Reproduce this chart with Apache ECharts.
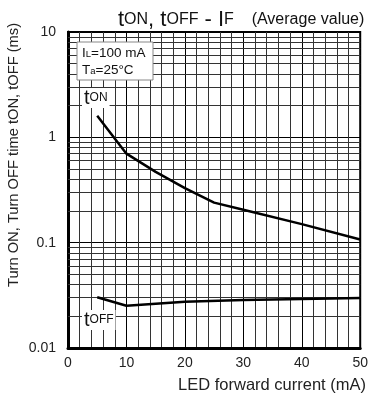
<!DOCTYPE html>
<html>
<head>
<meta charset="utf-8">
<script src="https://cdn.jsdelivr.net/npm/echarts@6/dist/echarts.min.js"></script>
<style>html,body{margin:0;padding:0;background:#fff}#c{width:371px;height:394px}</style>
</head>
<body>
<div id="c"></div>
<script>
// Data
var ledCurrent_on = [5, 10, 15, 20, 25, 30, 40, 50];
var tOn = [1.6, 0.70, 0.47, 0.33, 0.24, 0.205, 0.150, 0.107];
var ledCurrent_off = [5, 10, 20, 30, 40, 50];
var tOff = [0.0303, 0.0252, 0.0275, 0.0285, 0.0292, 0.0298];
var yTicks = [0.01, 0.1, 1, 10];
var xTicks = [0, 10, 20, 30, 40, 50];
var yMinorLines = [];
[0.01, 0.1, 1].forEach(function (d) { for (var k = 2; k <= 9; k++) yMinorLines.push(+(d * k).toPrecision(3)); });

var F = 'Liberation Sans, Arial, sans-serif';
var chart = echarts.init(document.getElementById('c'), null, {renderer: 'canvas'});
function pairs(xs, ys) { return xs.map(function (x, i) { return [x, ys[i]]; }); }

chart.setOption({
  animation: false,
  grid: {left: 68, right: 6, top: 32, bottom: 46, show: true, borderColor: '#000', borderWidth: 2},
  xAxis: {
    type: 'value', min: 0, max: 50, interval: 10,
    axisLine: {show: true, lineStyle: {color: '#000', width: 3}},
    axisTick: {show: false},
    axisLabel: {color: '#222', fontFamily: F, fontSize: 14, margin: 8, showMaxLabel: true},
    splitLine: {show: true, lineStyle: {color: '#000', width: 1}},
    minorTick: {show: false, splitNumber: 5},
    minorSplitLine: {show: true, lineStyle: {color: '#333', width: 1}}
  },
  yAxis: {
    type: 'log', logBase: 10, min: 0.01, max: 10,
    axisLine: {show: true, lineStyle: {color: '#000', width: 3}},
    axisTick: {show: false},
    axisLabel: {color: '#222', fontFamily: F, fontSize: 14, margin: 12,
      formatter: function (v) { return yTicks.filter(function (t) { return Math.abs(t - v) / t < 1e-6; }).map(String)[0] || String(v); }},
    splitLine: {show: true, lineStyle: {color: '#000', width: 1}}
  },
  series: [
    {
      type: 'line', data: [], silent: true, z: 1,
      markLine: {
        silent: true, symbol: ['none', 'none'], label: {show: false},
        lineStyle: {color: '#333', width: 1, type: 'solid'},
        data: yMinorLines.map(function (v) { return {yAxis: v}; })
      }
    },
    {type: 'line', data: pairs(ledCurrent_on, tOn), showSymbol: false, z: 5,
      lineStyle: {color: '#000', width: 2.5}},
    {type: 'line', data: pairs(ledCurrent_off, tOff), showSymbol: false, z: 5,
      lineStyle: {color: '#000', width: 2.5}}
  ],
  graphic: [
    {type: 'text', x: 118, y: 31, z: 100, style: {
      text: '{b|t}{s|ON}{b|, t}{s|OFF}{b| - I}{s|F}{m|    (Average value)}',
      verticalAlign: 'bottom',
      rich: {
        b: {fontFamily: F, fontSize: 22, fill: '#111'},
        s: {fontFamily: F, fontSize: 16, fill: '#111'},
        m: {fontFamily: F, fontSize: 16, fill: '#111'}
      }}},
    {type: 'rect', z: 100, shape: {x: 77, y: 42, width: 76, height: 38}, style: {fill: '#fff', stroke: '#888', lineWidth: 1}},
    {type: 'text', z: 101, x: 82, y: 46, style: {text: '{b|I}{s|L}{b|=100 mA}', rich: {
      b: {fontFamily: F, fontSize: 13.5, fill: '#111'}, s: {fontFamily: F, fontSize: 9.5, fill: '#111', padding: [3, 0, 0, 0]}}}},
    {type: 'text', z: 101, x: 82, y: 63, style: {text: '{b|T}{s|a}{b|=25°C}', rich: {
      b: {fontFamily: F, fontSize: 13.5, fill: '#111'}, s: {fontFamily: F, fontSize: 9.5, fill: '#111', padding: [3, 0, 0, 0]}}}},
    {type: 'text', z: 100, x: 82, y: 88, style: {
      text: '{b|t}{s|ON}', backgroundColor: '#fff', padding: [0, 2, 0, 2],
      rich: {b: {fontFamily: F, fontSize: 20, fill: '#111'}, s: {fontFamily: F, fontSize: 12, fill: '#111'}}}},
    {type: 'text', z: 100, x: 82, y: 310, style: {
      text: '{b|t}{s|OFF}', backgroundColor: '#fff', padding: [0, 2, 0, 2],
      rich: {b: {fontFamily: F, fontSize: 20, fill: '#111'}, s: {fontFamily: F, fontSize: 12, fill: '#111'}}}},
    {type: 'text', x: 14, y: 155, rotation: Math.PI / 2, z: 100, style: {
      text: 'Turn ON, Turn OFF time tON, tOFF (ms)', fontFamily: F, fontSize: 14.7, fill: '#222',
      align: 'center', verticalAlign: 'middle'}},
    {type: 'text', x: 366, y: 385, z: 100, style: {
      text: 'LED forward current (mA)', fontFamily: F, fontSize: 16.5, fill: '#222',
      align: 'right', verticalAlign: 'middle'}}
  ]
});
</script>
</body>
</html>
